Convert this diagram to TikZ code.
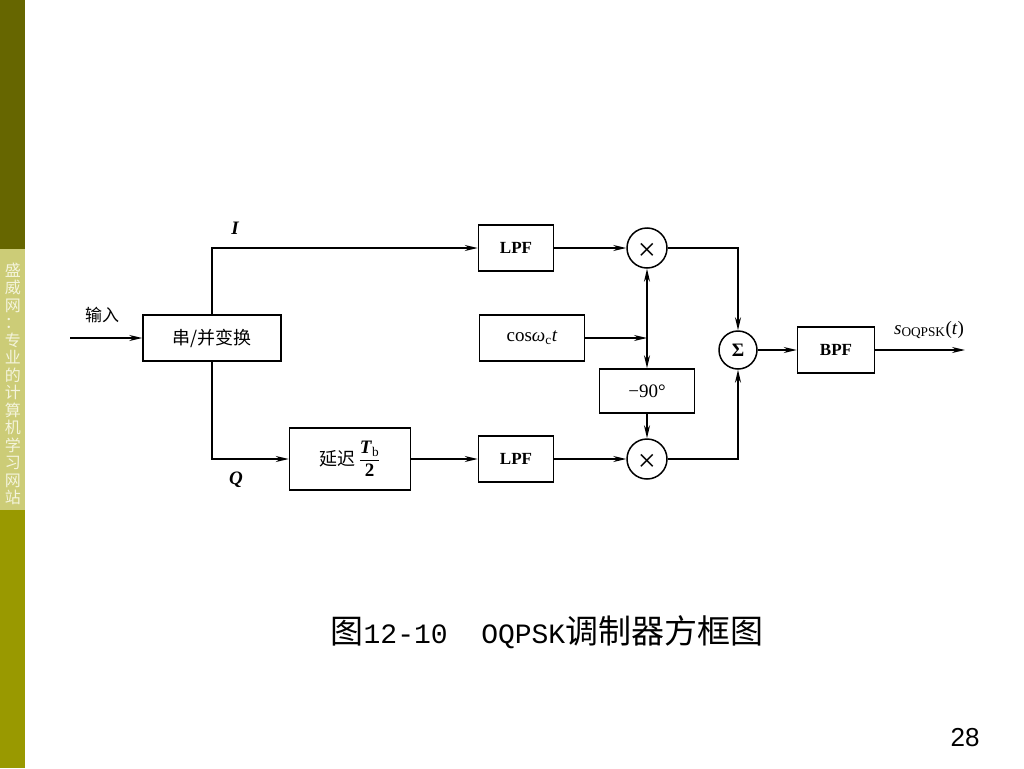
\documentclass[tikz,border=0pt]{standalone}
\usepackage{amsmath}
\usepackage{xcolor}
\usepackage{fontspec}
\setmainfont{Liberation Serif}
\setsansfont{Liberation Sans}
\newfontfamily\cjk{Noto Sans CJK SC}
\newfontfamily\capmono{Liberation Mono}
\usetikzlibrary{arrows.meta}
\definecolor{barDark}{HTML}{666600}
\definecolor{barLight}{HTML}{CCCC77}
\definecolor{barMid}{HTML}{999900}
\definecolor{sideText}{HTML}{F4F4DC}

\begin{document}
\begin{tikzpicture}[x=1pt, y=-1pt,
  blk/.style={draw, line width=1.5pt, inner sep=0pt, minimum width=75pt, minimum height=46pt, font=\fontsize{19}{22}\selectfont},
  mix/.style={draw, circle, line width=1.5pt, minimum size=40pt, inner sep=0pt},
  sig/.style={line width=1.5pt, -{Stealth[length=13pt, width=6pt]}},
  lbl/.style={inner sep=0pt, font=\fontsize{19}{22}\selectfont}]
 \useasboundingbox (0,0) rectangle (1024,768);
 \fill[white] (0,0) rectangle (1024,768);
 % side bar
 \fill[barDark] (0,0) rectangle (25,249);
 \fill[barLight] (0,249) rectangle (25,510);
 \fill[barMid] (0,510) rectangle (25,768);
 \node[text=sideText, align=center, inner sep=0pt, font=\cjk\fontsize{16}{17.5}\selectfont] (side) at (13,384)
   {盛\\威\\网\\：\\专\\业\\的\\计\\算\\机\\学\\习\\网\\站};
 % blocks
 \node[blk, minimum width=138pt, font=\cjk\fontsize{18}{20}\selectfont] (sp) at (212,338) {串/并变换};
 \node[blk, font=\bfseries\fontsize{17}{20}\selectfont] (lpfI) at (516,248) {LPF};
 \node[blk, minimum width=121pt, minimum height=62pt] (dly) at (350,459)
   {{\cjk\fontsize{18}{20}\selectfont 延迟}\,$\dfrac{\text{\textbf{\textit{T}}\textsubscript{b}}}{\text{\textbf{2}}}$};
 \node[blk, font=\bfseries\fontsize{17}{20}\selectfont] (lpfQ) at (516,459) {LPF};
 \node[blk, minimum width=105pt] (cos) at (532,338) {cos\textit{ω}\textsubscript{c}\textit{t}};
 \node[blk, minimum width=95pt, minimum height=44pt] (sh) at (647,391) {−90°};
 \node[mix, text height=25pt, text depth=0pt, font=\fontsize{32}{32}\selectfont] (mxI) at (647,248) {×};
 \node[mix, text height=25pt, text depth=0pt, font=\fontsize{32}{32}\selectfont] (mxQ) at (647,459) {×};
 \node[mix, minimum size=38pt, font=\bfseries\fontsize{19}{20}\selectfont] (sum) at (738,350) {Σ};
 \node[blk, minimum width=77pt, font=\bfseries\fontsize{17}{20}\selectfont] (bpf) at (836,350) {BPF};
 % labels
 \node[lbl, font=\cjk\fontsize{17}{20}\selectfont] (inLbl) at (102,315) {输入};
 \node[lbl, font=\bfseries\itshape\fontsize{19}{22}\selectfont] (iLbl) at (235,228) {I};
 \node[lbl, font=\bfseries\itshape\fontsize{19}{22}\selectfont] (qLbl) at (236,480) {Q};
 \node[lbl] (sLbl) at (929,330) {\textit{s}\textsubscript{OQPSK}(\textit{t})};
 \coordinate (in) at (70,338);
 \coordinate (out) at (965,350);
 \coordinate (tap) at (mxI |- cos);
 % connections
 \draw[sig] (in) -- (sp.west);
 \draw[sig] (sp.north) |- (lpfI.west);
 \draw[sig] (sp.south) |- (dly.west);
 \draw[sig] (dly) -- (lpfQ);
 \draw[sig] (lpfI) -- (mxI);
 \draw[sig] (lpfQ) -- (mxQ);
 \draw[sig] (cos) -- (tap);
 \draw[sig] (tap) -- (mxI);
 \draw[sig] (tap) -- (sh.north);
 \draw[sig] (sh) -- (mxQ);
 \draw[sig] (mxI) -| (sum);
 \draw[sig] (mxQ) -| (sum);
 \draw[sig] (sum) -- (bpf);
 \draw[sig] (bpf) -- (out);
 % caption and page number
 \node[inner sep=0pt] (cap) at (547,632)
   {\cjk\fontsize{33}{36}\selectfont 图{\capmono\fontsize{28}{36}\selectfont 12-10\ \ OQPSK}调制器方框图};
 \node[inner sep=0pt, font=\sffamily\fontsize{26}{28}\selectfont] (page) at (965,738) {28};
\end{tikzpicture}
\end{document}
